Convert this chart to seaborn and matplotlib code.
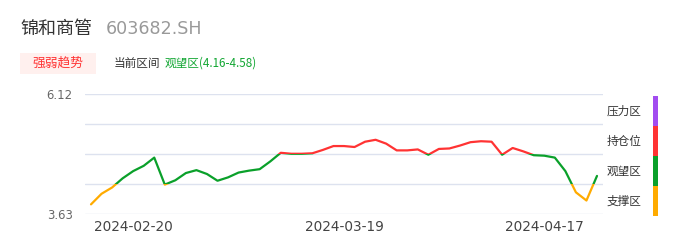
import numpy as np
import pandas as pd
import matplotlib
matplotlib.use("Agg")
import matplotlib.pyplot as plt
from matplotlib.patches import Rectangle
import seaborn as sns

# ---------------- data ----------------
dates = ["2024-02-06", "2024-02-07", "2024-02-08", "2024-02-19", "2024-02-20",
         "2024-02-21", "2024-02-22", "2024-02-23", "2024-02-26", "2024-02-27",
         "2024-02-28", "2024-02-29", "2024-03-01", "2024-03-04", "2024-03-05",
         "2024-03-06", "2024-03-07", "2024-03-08", "2024-03-11", "2024-03-12",
         "2024-03-13", "2024-03-14", "2024-03-15", "2024-03-18", "2024-03-19",
         "2024-03-20", "2024-03-21", "2024-03-22", "2024-03-25", "2024-03-26",
         "2024-03-27", "2024-03-28", "2024-03-29", "2024-04-01", "2024-04-02",
         "2024-04-03", "2024-04-08", "2024-04-09", "2024-04-10", "2024-04-11",
         "2024-04-12", "2024-04-15", "2024-04-16", "2024-04-17", "2024-04-18",
         "2024-04-19", "2024-04-22", "2024-04-23", "2024-04-24"]
prices = [3.83, 4.05, 4.18, 4.37, 4.52, 4.63, 4.80, 4.24, 4.33, 4.48,
          4.54, 4.46, 4.32, 4.39, 4.49, 4.53, 4.56, 4.72, 4.90, 4.88,
          4.88, 4.89, 4.96, 5.04, 5.04, 5.02, 5.13, 5.17, 5.09, 4.95,
          4.95, 4.97, 4.86, 4.98, 4.99, 5.05, 5.12, 5.14, 5.13, 4.86,
          5.00, 4.93, 4.85, 4.84, 4.80, 4.52, 4.08, 3.91, 4.42]
tick_dates = ["2024-02-20", "2024-03-19", "2024-04-17"]
y_min, y_max = 3.63, 6.12
y_tick_labels = ["6.12", "3.63"]
# zone boundaries used to colour the price line (support / watch / holding)
zone_bounds = [4.26, 4.875]
zone_names = ["压力区", "持仓位", "观望区", "支撑区"]
zone_colors = ["#a24cf0", "#ff3333", "#0aa02a", "#ffab00"]
title_name = "锦和商管"
title_code = "603682.SH"
badge_text = "强弱趋势"
range_label = "当前区间"
range_value = "观望区(4.16-4.58)"

# ---------------- style ----------------
sns.set_theme(style="white")
plt.rcParams["font.family"] = ["Noto Sans CJK SC", "DejaVu Sans"]

W, H = 686, 247
fig = plt.figure(figsize=(W / 100, H / 100), dpi=100)
fig.patch.set_facecolor("white")

def px_box(x0, y0, x1, y1):
    return [x0 / W, 1 - y1 / H, (x1 - x0) / W, (y1 - y0) / H]

ax = fig.add_axes(px_box(85, 94, 603, 214))
df = pd.DataFrame({"idx": np.arange(len(dates)), "date": dates, "price": prices})

bands = [(y_min - 10, zone_bounds[0], zone_colors[3]),
         (zone_bounds[0], zone_bounds[1], zone_colors[2]),
         (zone_bounds[1], y_max + 10, zone_colors[1])]
for lo, hi, col in bands:
    n_before = len(ax.lines)
    sns.lineplot(data=df, x="idx", y="price", ax=ax, color=col, linewidth=1.6,
                 estimator=None, sort=False)
    ln = ax.lines[n_before]
    ln.set_solid_joinstyle("round")
    ln.set_solid_capstyle("round")
    clip = Rectangle((-100, lo), 300, hi - lo, transform=ax.transData)
    ln.set_clip_path(clip)

n = len(dates)
pad = 0.57
ax.set_xlim(-pad, n - 1 + pad)
ax.set_ylim(y_min, y_max)
grid_vals = np.linspace(y_min, y_max, 5)
ax.set_yticks(grid_vals)
ax.set_yticklabels([y_tick_labels[1], "", "", "", y_tick_labels[0]])
ax.yaxis.grid(True, color="#dde2ef", linewidth=1.0)
ax.xaxis.grid(False)
ax.set_xticks([dates.index(d) for d in tick_dates])
ax.set_xticklabels(tick_dates)
ax.tick_params(axis="y", length=0, pad=9, labelsize=8.4, labelcolor="#666666")
ax.tick_params(axis="x", length=0, pad=4, labelsize=9.8, labelcolor="#444444")
for lbl in ax.get_xticklabels() + ax.get_yticklabels():
    lbl.set_fontfamily("DejaVu Sans")
for s in ax.spines.values():
    s.set_visible(False)
ax.set_xlabel("")
ax.set_ylabel("")

# ---------------- header texts ----------------
fig.text(20 / W, 1 - 29 / H, title_name, fontsize=13, color="#333333", va="center", ha="left")
fig.text(106 / W, 1 - 29 / H, title_code, fontsize=12.6, color="#999999", va="center",
         ha="left", family="DejaVu Sans")
fig.patches.append(Rectangle((20 / W, 1 - 74 / H), 76 / W, 21 / H, transform=fig.transFigure,
                             facecolor="#fff0ee", edgecolor="none"))
fig.text(58 / W, 1 - 63 / H, badge_text, fontsize=9.2, color="#ff3333", va="center", ha="center")
fig.text(114 / W, 1 - 63 / H, range_label, fontsize=8.4, color="#333333", va="center", ha="left")
fig.text(165 / W, 1 - 63 / H, range_value, fontsize=8.4, color="#11a632", va="center", ha="left",
         family=["Noto Sans CJK SC", "DejaVu Sans"])

# ---------------- right legend ----------------
seg_top = 96
seg_h = 30
for i, (name, col) in enumerate(zip(zone_names, zone_colors)):
    y0 = seg_top + i * seg_h
    fig.patches.append(Rectangle((653 / W, 1 - (y0 + seg_h) / H), 5 / W, seg_h / H,
                                 transform=fig.transFigure, facecolor=col, edgecolor="none"))
    fig.text(607 / W, 1 - (y0 + seg_h / 2) / H, name, fontsize=8.4, color="#333333",
             va="center", ha="left")

fig.savefig("out.png", dpi=100, facecolor="white")
